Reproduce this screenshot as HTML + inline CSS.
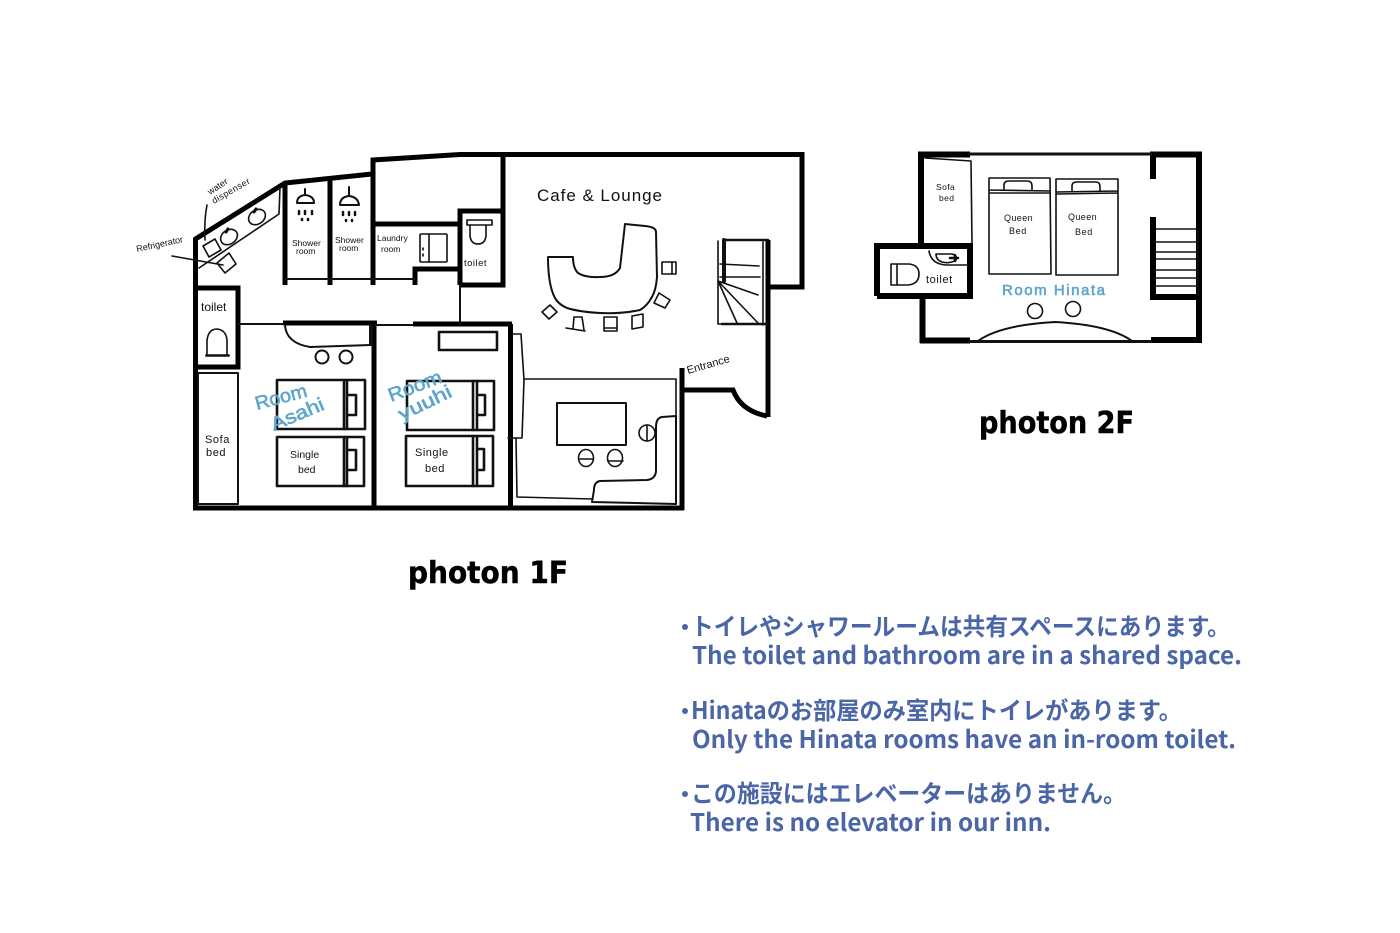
<!DOCTYPE html>
<html>
<head>
<meta charset="utf-8">
<style>
html,body{margin:0;padding:0;background:#fff;width:1400px;height:933px;overflow:hidden}
svg{display:block}
.w{fill:none;stroke:#000;stroke-linecap:butt;stroke-linejoin:miter}
.t{fill:none;stroke:#111;stroke-width:1.6;stroke-linejoin:round;stroke-linecap:round}
.h{font-family:"Liberation Sans",sans-serif;fill:#111}
.b{font-family:"Liberation Sans",sans-serif;fill:#5ea6cb;stroke:#5ea6cb;stroke-width:.6}
.n{font-family:"Noto Sans CJK JP","Liberation Sans",sans-serif;font-weight:bold;fill:#4a66a6;font-size:24px}
.p{font-family:"DejaVu Sans",sans-serif;font-weight:bold;fill:#000;stroke:#000;stroke-width:.5;font-size:30px}
</style>
</head>
<body>
<svg width="1400" height="933" viewBox="0 0 1400 933" xmlns="http://www.w3.org/2000/svg">
<rect width="1400" height="933" fill="#fff"/>

<!-- 1F walls -->
<g class="w" stroke-width="5">
<path d="M195.500 508V239L285 183L372 174"/>
<path d="M373 285V160L460 154.500H802V287H768"/>
<path d="M768 240V417"/>
<path d="M767 416Q741 411 733 390H683"/>
<path d="M682 368V510"/>
<path d="M193 508H684"/>
<path d="M195 288H238V367H195"/>
<path d="M285 182V285M330 178V285"/>
<path d="M373 224H460M460 285V211H503M503 154V285H460"/>
<path d="M415 285V269H460"/>
<path d="M283 323H377M374 323V508"/>
<path d="M413 324H512M510.500 324V508"/>
</g>
<g class="t">
<path d="M238 324H284M376 325H413M460 285V324" stroke-width="2"/>
<path d="M285 279H415" stroke-width="2"/>
<!-- counter by diagonal wall -->
<path d="M280 188L279 214L199 268"/>
<!-- basins -->
<ellipse cx="257" cy="217" rx="9" ry="7" transform="rotate(-35 257 217)"/>
<ellipse cx="229" cy="237" rx="9" ry="7" transform="rotate(-35 229 237)"/>
<path d="M254 212l2 -3M226 232l2 -3" stroke-width="3"/>
<path d="M203 246L215 239L221 250L209 257Z"/>
<path d="M217 263L229 253L236 264L225 273Z"/>
<path d="M205 240Q204 220 207 205"/>
<path d="M172 256L223 265"/>
<!-- showers -->
<path d="M297 203Q297 196 305 195Q314 196 314 203Z" stroke-width="2"/>
<path d="M305 195V189" stroke-width="2"/>
<path d="M340 205Q340 197 349 196Q358 197 359 205Z" stroke-width="2"/>
<path d="M349 196V187" stroke-width="2"/>
<path d="M299 211v3M305 211v3M312 211v3M302 219v1M308 219v1" stroke-width="2.500"/>
<path d="M343 212v3M349 212v3M355 212v3M346 220v1M352 220v1" stroke-width="2.500"/>
<!-- washer -->
<rect x="420" y="234" width="27" height="28" rx="1"/>
<path d="M429 234V262M423 248v2M423 254v2"/>
<!-- 1F toilet top -->
<path d="M467 220H492V225H467ZM470 225V236Q471 244 478 244Q485 244 486 236V225"/>
<!-- left toilet -->
<path d="M207 355V341Q208 329 217 329Q226 330 227 340V354M206 355H229V356H206Z"/>
<!-- sofa -->
<path d="M198 373H238V504H198Z" stroke-width="2"/>
<!-- Asahi -->
<path d="M285 325Q286 343 310 347L371 345" stroke-width="2"/>
<path d="M371 326V344" stroke-width="4"/>
<circle cx="322" cy="357" r="6.500" stroke-width="2"/>
<circle cx="346" cy="357" r="6.500" stroke-width="2"/>
<g stroke-width="2.600">
<rect x="277" y="380" width="88" height="49"/>
<path d="M344 380V429M347 380V429M348 395H356V415H348"/>
<rect x="277" y="437" width="87" height="49"/>
<path d="M344 437V486M347 437V486M348 450H356V470H348"/>
<rect x="439" y="332" width="58" height="18"/>
<rect x="407" y="381" width="87" height="49"/>
<path d="M473 381V430M477 381V430M477 395H485V415H477"/>
<rect x="406" y="436" width="87" height="50"/>
<path d="M473 436V486M477 436V486M477 449H484V470H477"/>
</g>
<!-- shelf and lounge room -->
<path d="M512 334H521L524 380L522 438H508"/>
<path d="M524 379H676V503M516 438L517 497L592 499"/>
<rect x="557" y="403" width="69" height="42" stroke-width="2"/>
<ellipse cx="586" cy="458" rx="7.500" ry="8.500"/>
<path d="M579 459H593"/>
<ellipse cx="615" cy="458" rx="7.500" ry="8.500"/>
<path d="M608 461H623"/>
<ellipse cx="647" cy="433" rx="8" ry="8"/>
<path d="M647 425V441"/>
<path d="M676 416L662 417Q656 418 656 427V470Q656 479 647 480L600 481Q594 482 594 490L592 502L676 504L676 416Z" stroke-width="2"/>
<!-- cafe counter -->
<path d="M548 257L573 257Q573 268 578 273Q586 278 600 277Q615 277 620 268L625 224L645 226Q656 227 656 232L657 277Q656 290 652 297Q647 306 640 310Q622 314 600 313Q580 312 567 308Q558 304 555 298Q548 285 548 257Z" stroke-width="2"/>
<rect x="662" y="262" width="14" height="12"/><path d="M672 262V274"/>
<path d="M659 293L670 300L665 308L654 303Z"/>
<path d="M542 312L550 305L557 312L549 319Z"/>
<path d="M573 329L574 317H582L584 330M566 328L585 331"/>
<path d="M604 317H617V331H604ZM604 328H617"/>
<path d="M632 316L643 314L643 327L632 329Z"/>
<!-- stairs -->
<path d="M718 241V324H767M720 264L759 266M720 277H760M718 281L758 295M718 281L737 323M718 281L758 323M723 240H766M763 242V325"/>
<path d="M724 240V281" stroke-width="4"/>
<path d="M724 240H768M722 324H767" stroke-width="2.500"/>
</g>

<!-- 2F -->
<g class="w" stroke-width="6">
<path d="M918 154.500H970M921 152V243"/>
<path d="M1150 154.500H1199V340H1151"/>
<path d="M1153 152V179M1153 217V297H1199"/>
<path d="M922.500 296V343M920 340.500H970"/>
<path d="M877 296V246H970V296H877M970 243V298"/>
</g>
<g class="t">
<path d="M969 154H1151" stroke-width="3"/>
<path d="M969 341.500H1151" stroke-width="3"/>
<path d="M925 158L971 161L972 243"/>
<path d="M989 178H1050L1051 274H989ZM989 190L1050 191M989 193H1050"/>
<path d="M1004 190V185Q1004 181 1009 181H1027Q1032 181 1032 186V190"/>
<path d="M1056 179H1118V275H1056ZM1056 192L1118 191M1056 194L1118 193"/>
<path d="M1072 191V186Q1072 182 1077 182H1096Q1100 182 1100 187V191"/>
<path d="M929 251Q931 264 946 265H968"/>
<path d="M936 254H952Q958 256 956 260Q950 264 942 262Q936 260 936 254Z"/>
<path d="M950 258H958M955 255V261" stroke-width="2.500"/>
<path d="M891 264V285H897V264ZM897 264H909Q919 265 919 274Q919 284 908 285H897"/>
<circle cx="1035" cy="311" r="7.500"/>
<circle cx="1073" cy="309" r="7.500"/>
<path d="M978 341Q1000 325 1055 322Q1110 325 1132 341" stroke-width="2"/>
<path d="M1155 229H1198M1155 242H1198M1155 252H1198M1155 259H1198M1155 270H1198M1155 278H1198M1155 286H1198M1198 229V296"/>
</g>

<!-- handwritten labels -->
<g class="h">
<text x="537" y="201" font-size="17" textLength="125" lengthAdjust="spacing">Cafe &amp; Lounge</text>
<text transform="translate(210 195) rotate(-33)" font-size="9">water</text>
<text transform="translate(214 204) rotate(-30)" font-size="9" letter-spacing=".4">dispenser</text>
<text transform="translate(137 252) rotate(-12)" font-size="9">Refrigerator</text>
<text x="292" y="246" font-size="8.500">Shower</text>
<text x="296" y="254" font-size="8.500">room</text>
<text x="335" y="243" font-size="8.500">Shower</text>
<text x="339" y="251" font-size="8.500">room</text>
<text x="377" y="241" font-size="8.500">Laundry</text>
<text x="381" y="252" font-size="8.500">room</text>
<text x="464" y="266" font-size="9.500" letter-spacing=".5">toilet</text>
<text x="201" y="311" font-size="12">toilet</text>
<text x="205" y="443" font-size="11" letter-spacing=".6">Sofa</text>
<text x="206" y="456" font-size="11" letter-spacing=".6">bed</text>
<text x="290" y="458" font-size="10.500">Single</text>
<text x="298" y="473" font-size="10.500">bed</text>
<text x="415" y="456" font-size="11" letter-spacing=".5">Single</text>
<text x="425" y="472" font-size="11" letter-spacing=".5">bed</text>
<text transform="translate(688 374) rotate(-16)" font-size="11">Entrance</text>
<text x="936" y="190" font-size="8.500" letter-spacing=".4">Sofa</text>
<text x="939" y="201" font-size="8.500" letter-spacing=".4">bed</text>
<text x="1004" y="221" font-size="9" letter-spacing=".4">Queen</text>
<text x="1009" y="234" font-size="9" letter-spacing=".6">Bed</text>
<text x="1068" y="220" font-size="9" letter-spacing=".4">Queen</text>
<text x="1075" y="235" font-size="9" letter-spacing=".6">Bed</text>
<text x="926" y="283" font-size="11" letter-spacing=".6">toilet</text>
</g>
<g class="b">
<text transform="translate(257 410) rotate(-15)" font-size="19" textLength="53" lengthAdjust="spacingAndGlyphs">Room</text>
<text transform="translate(274 431) rotate(-23)" font-size="19" textLength="56" lengthAdjust="spacingAndGlyphs">Asahi</text>
<text transform="translate(391 402) rotate(-21)" font-size="19" textLength="56" lengthAdjust="spacingAndGlyphs">Room</text>
<text transform="translate(402 421) rotate(-26)" font-size="19" textLength="57" lengthAdjust="spacingAndGlyphs">yuuhi</text>
<text x="1002" y="295" font-size="15" textLength="103" lengthAdjust="spacing">Room Hinata</text>
</g>

<text class="p" x="408" y="583" textLength="160" lengthAdjust="spacingAndGlyphs">photon 1F</text>
<text class="p" x="979" y="433" textLength="155" lengthAdjust="spacingAndGlyphs">photon 2F</text>

<g class="n">
<circle cx="685" cy="627" r="3" fill="#4a66a6"/>
<circle cx="685" cy="711" r="3" fill="#4a66a6"/>
<circle cx="685" cy="794" r="3" fill="#4a66a6"/>
<text x="691" y="635" textLength="539" lengthAdjust="spacingAndGlyphs">トイレやシャワールームは共有スペースにあります。</text>
<text x="692" y="664" textLength="550" lengthAdjust="spacingAndGlyphs">The toilet and bathroom are in a shared space.</text>
<text x="691" y="719" textLength="491" lengthAdjust="spacingAndGlyphs">Hinataのお部屋のみ室内にトイレがあります。</text>
<text x="692" y="748" textLength="544" lengthAdjust="spacingAndGlyphs">Only the Hinata rooms have an in-room toilet.</text>
<text x="691" y="802" textLength="435" lengthAdjust="spacingAndGlyphs">この施設にはエレベーターはありません。</text>
<text x="690" y="831" textLength="361" lengthAdjust="spacingAndGlyphs">There is no elevator in our inn.</text>
</g>
</svg>
</body>
</html>
